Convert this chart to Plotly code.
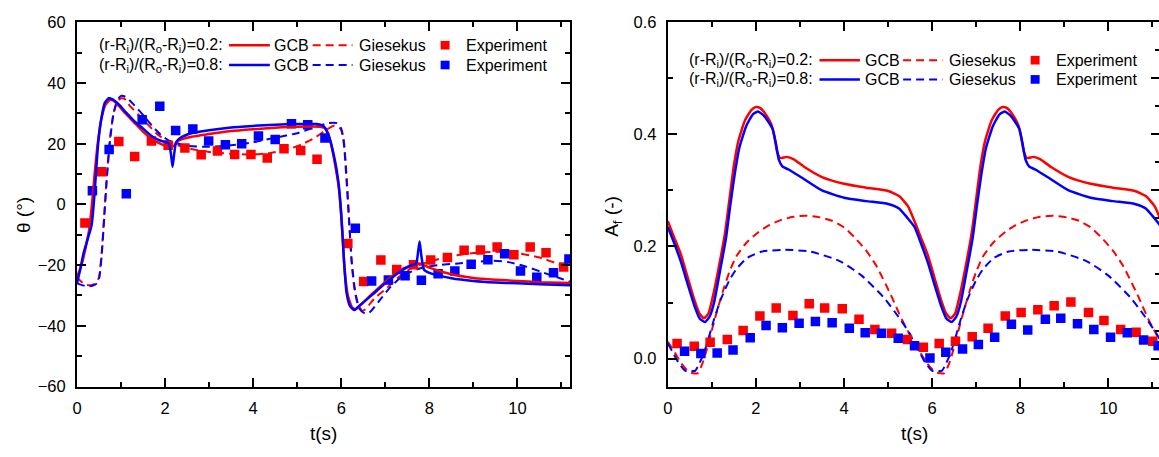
import plotly.graph_objects as go

W, H = 1159, 457
RED, BLUE = "#ff0000", "#0000ff"
FONT = "Arial, Liberation Sans, sans-serif"

# ---------------- Left panel: theta(t) ----------------
gcb02_t = [0.00, 0.10, 0.20, 0.28, 0.34, 0.40, 0.47, 0.55, 0.65, 0.75, 0.82, 0.95, 1.10, 1.30, 1.50, 1.70,
           1.90, 2.10, 2.20, 2.30, 2.50, 3.00, 3.50, 4.00, 4.50, 5.00, 5.50, 5.65, 5.75, 5.85, 5.95, 6.02,
           6.08, 6.15, 6.25, 6.33, 6.45, 6.70, 7.00, 7.30, 7.60, 7.80, 8.00, 8.50, 9.00, 9.50, 10.00, 10.50, 11.20]
gcb02_th = [-24, -20, -14, -8, 0, 10, 20, 28, 33, 34.5, 34.3, 32.5, 30, 27, 24, 21.5,
            20, 19, 19.3, 21, 22, 23.2, 24.2, 24.8, 25.3, 25.6, 25.6, 25, 21, 14, 5, -8,
            -22, -30, -34, -34.5, -33, -29.5, -25.5, -22, -20, -19.5, -20.8, -23, -24.2, -24.8, -25.2, -25.6, -25.9]

gcb08_t = [0.00, 0.08, 0.15, 0.25, 0.33, 0.38, 0.42, 0.48, 0.55, 0.63, 0.72, 0.80, 0.95, 1.10, 1.30, 1.50,
           1.70, 1.90, 2.08, 2.13, 2.17, 2.21, 2.25, 2.35, 2.60, 3.00, 3.50, 4.00, 4.50, 5.00, 5.45, 5.60,
           5.72, 5.85, 5.93, 6.00, 6.06, 6.12, 6.20, 6.30, 6.40, 6.70, 7.00, 7.30, 7.55, 7.70, 7.75, 7.78,
           7.82, 7.88, 8.05, 8.50, 9.00, 9.50, 10.00, 10.50, 11.20]
gcb08_th = [-26, -21, -16, -11, -7, 0, 8, 20, 28, 33.5, 35, 34.7, 33, 30.5, 27.5, 25,
            22.5, 21, 20.2, 17, 12.4, 17, 20.5, 22, 23.5, 24.5, 25.4, 25.9, 26.3, 26.5, 26.5, 25.8,
            22.5, 15, 8, -3, -18, -29, -33.5, -34.8, -33.5, -29.8, -26, -22.5, -20.3, -19.5, -15, -12.2,
            -17, -21.5, -22.8, -24.3, -25.2, -25.7, -26, -26.3, -26.6]

gie02_t = [0.00, 0.10, 0.20, 0.35, 0.45, 0.50, 0.56, 0.62, 0.68, 0.75, 0.83, 0.92, 1.00, 1.08, 1.20, 1.40,
           1.60, 1.80, 2.00, 2.20, 2.40, 2.70, 3.00, 3.50, 4.00, 4.40, 4.80, 5.10, 5.40, 5.65, 5.85, 5.98,
           6.05, 6.12, 6.18, 6.23, 6.30, 6.38, 6.48, 6.55, 6.75, 7.00, 7.30, 7.60, 8.00, 8.50, 9.00, 9.50,
           10.00, 10.50, 11.00, 11.20]
gie02_th = [-24, -25.5, -26.5, -26.5, -25.5, -24, -16, -3, 10, 22, 30, 34, 35, 34.8, 32.5, 29.5,
            26.5, 23.5, 21.3, 20, 19, 18, 17.3, 16.7, 16.5, 17, 18.2, 19.8, 22, 24.5, 26, 25,
            22, 10, -5, -18, -28, -33, -35, -34.5, -31, -28, -24, -21, -18.8, -17, -16, -15.6,
            -16, -17.5, -20, -21.5]

gie08_t = [0.00, 0.10, 0.25, 0.35, 0.45, 0.50, 0.56, 0.62, 0.68, 0.75, 0.83, 0.92, 1.00, 1.10, 1.25, 1.50,
           1.70, 1.90, 2.10, 2.30, 2.50, 3.00, 3.50, 4.00, 4.50, 5.00, 5.40, 5.70, 5.90, 6.00, 6.06, 6.12,
           6.18, 6.24, 6.32, 6.42, 6.55, 6.65, 6.85, 7.10, 7.40, 7.80, 8.20, 8.60, 9.00, 9.40, 9.80, 10.20,
           10.60, 11.00, 11.20]
gie08_th = [-26, -26.5, -27, -26.8, -26, -24.5, -17, -4, 9, 21, 30, 34.5, 35.8, 35.5, 33.5, 29.5,
            26, 23, 21, 20, 19.3, 19, 19.5, 20.5, 22, 23.5, 25.5, 26.8, 26.8, 25, 20, 8,
            -6, -19, -29, -34.5, -36, -35.5, -32, -27.5, -23.5, -21, -20, -19.5, -19, -18.5, -19, -20.5,
            -22.5, -24.5, -25.5]

exp02_t = [0.18, 0.56, 0.95, 1.31, 1.69, 2.07, 2.45, 2.82, 3.19, 3.58, 3.95, 4.32, 4.70, 5.08, 5.45,
           6.15, 6.51, 6.90, 7.26, 7.64, 8.03, 8.41, 8.79, 9.16, 9.54, 9.92, 10.29, 10.65, 11.05]
exp02_th = [-6.1, 10.8, 20.8, 15.8, 20.9, 19.5, 18.6, 16.4, 17.6, 16.5, 16.5, 15.3, 18.4, 17.8, 14.9,
            -12.9, -25.4, -18.3, -21.4, -19.9, -18.3, -17.5, -15.1, -15.0, -14.0, -16.6, -14.0, -15.9, -20.6]

exp08_t = [0.35, 0.73, 1.12, 1.48, 1.88, 2.24, 2.63, 2.99, 3.37, 3.74, 4.12, 4.50, 4.87, 5.24, 5.63,
           6.32, 6.69, 7.07, 7.45, 7.82, 8.20, 8.58, 8.95, 9.33, 9.71, 10.07, 10.44, 10.82, 11.17]
exp08_th = [4.5, 18.1, 3.5, 27.9, 32.4, 24.4, 24.9, 20.9, 19.7, 20.0, 22.6, 21.4, 26.6, 26.3, 21.9,
            -7.8, -25.2, -24.9, -23.5, -25.0, -22.8, -21.9, -19.7, -18.2, -16.2, -21.9, -24.0, -22.5, -18.0]

# ---------------- Right panel: A_f(t) ----------------
agcb02_t = [0.00, 0.15, 0.30, 0.45, 0.60, 0.72, 0.82, 0.92, 1.02, 1.15, 1.30, 1.40, 1.50, 1.60, 1.75, 1.90,
            2.00, 2.10, 2.22, 2.35, 2.42, 2.48, 2.55, 2.70, 2.85, 3.10, 3.50, 4.00, 4.50, 5.00, 5.25, 5.45,
            5.60, 5.75, 5.90, 6.05, 6.20, 6.32, 6.42, 6.52, 6.62, 6.75, 6.90, 7.00, 7.10, 7.20, 7.35, 7.50,
            7.60, 7.70, 7.82, 7.95, 8.02, 8.08, 8.15, 8.30, 8.45, 8.70, 9.10, 9.60, 10.10, 10.60, 10.85, 11.05, 11.20]
agcb02_a = [0.245, 0.215, 0.185, 0.145, 0.105, 0.080, 0.072, 0.080, 0.110, 0.160, 0.225, 0.285, 0.345, 0.388, 0.425, 0.444,
            0.449, 0.447, 0.436, 0.418, 0.395, 0.370, 0.358, 0.360, 0.356, 0.342, 0.324, 0.312, 0.305, 0.299, 0.290, 0.272,
            0.245, 0.215, 0.185, 0.145, 0.105, 0.080, 0.072, 0.080, 0.110, 0.160, 0.225, 0.285, 0.345, 0.388, 0.425, 0.444,
            0.449, 0.447, 0.436, 0.418, 0.395, 0.370, 0.358, 0.360, 0.356, 0.342, 0.324, 0.312, 0.305, 0.299, 0.290, 0.272, 0.245]

agcb08_t = [0.00, 0.15, 0.30, 0.45, 0.60, 0.72, 0.84, 0.95, 1.05, 1.17, 1.32, 1.42, 1.52, 1.62, 1.78, 1.93,
            2.05, 2.20, 2.38, 2.45, 2.52, 2.60, 2.75, 3.00, 3.50, 4.00, 4.50, 5.00, 5.25, 5.45,
            5.60, 5.75, 5.90, 6.05, 6.20, 6.32, 6.44, 6.55, 6.65, 6.77, 6.92, 7.02, 7.12, 7.22, 7.38, 7.53,
            7.65, 7.80, 7.98, 8.05, 8.12, 8.20, 8.35, 8.60, 9.10, 9.60, 10.10, 10.60, 10.85, 11.05, 11.20]
agcb08_a = [0.235, 0.205, 0.172, 0.133, 0.095, 0.072, 0.065, 0.075, 0.100, 0.150, 0.215, 0.275, 0.330, 0.375, 0.415, 0.436,
            0.441, 0.432, 0.410, 0.385, 0.355, 0.343, 0.337, 0.325, 0.300, 0.287, 0.281, 0.276, 0.268, 0.250,
            0.235, 0.205, 0.172, 0.133, 0.095, 0.072, 0.065, 0.075, 0.100, 0.150, 0.215, 0.275, 0.330, 0.375, 0.415, 0.436,
            0.441, 0.432, 0.410, 0.385, 0.355, 0.343, 0.337, 0.325, 0.300, 0.287, 0.281, 0.276, 0.268, 0.250, 0.235]

agie02_t = [0.00, 0.15, 0.30, 0.45, 0.55, 0.68, 0.78, 0.88, 0.98, 1.10, 1.25, 1.40, 1.56, 1.80, 2.06, 2.30,
            2.56, 2.85, 3.14, 3.45, 3.73, 4.00, 4.23, 4.50, 4.73, 5.06, 5.31, 5.56,
            5.75, 5.90, 6.05, 6.15, 6.28, 6.38, 6.48, 6.58, 6.70, 6.85, 7.00, 7.16, 7.40, 7.66, 7.90,
            8.16, 8.45, 8.74, 9.05, 9.33, 9.60, 9.83, 10.10, 10.33, 10.66, 10.91, 11.16]
agie02_a = [0.030, 0.012, -0.008, -0.022, -0.026, -0.026, -0.010, 0.015, 0.045, 0.080, 0.120, 0.155, 0.183, 0.208, 0.226, 0.238,
            0.247, 0.253, 0.255, 0.252, 0.246, 0.234, 0.217, 0.193, 0.166, 0.114, 0.070, 0.033,
            0.008, -0.010, -0.023, -0.026, -0.026, -0.010, 0.015, 0.045, 0.080, 0.120, 0.155, 0.183, 0.208, 0.226, 0.238,
            0.247, 0.253, 0.255, 0.252, 0.246, 0.234, 0.217, 0.193, 0.166, 0.114, 0.070, 0.033]

agie08_t = [0.00, 0.12, 0.25, 0.40, 0.50, 0.62, 0.72, 0.82, 0.92, 1.05, 1.20, 1.40, 1.56, 1.81, 2.14, 2.64,
            3.23, 3.90, 4.40, 4.90, 5.23, 5.48, 5.60,
            5.72, 5.85, 6.00, 6.10, 6.22, 6.32, 6.42, 6.52, 6.65, 6.80, 7.00, 7.16, 7.41, 7.74, 8.24,
            8.83, 9.50, 10.00, 10.50, 10.83, 11.08, 11.20]
agie08_a = [0.027, 0.010, -0.008, -0.022, -0.022, -0.022, -0.008, 0.010, 0.035, 0.070, 0.105, 0.140, 0.160, 0.180, 0.191, 0.194,
            0.191, 0.174, 0.148, 0.109, 0.075, 0.046, 0.027,
            0.010, -0.008, -0.022, -0.022, -0.022, -0.008, 0.010, 0.035, 0.070, 0.105, 0.140, 0.160, 0.180, 0.191, 0.194,
            0.191, 0.174, 0.148, 0.109, 0.075, 0.046, 0.030]

aexp02_t = [0.21, 0.60, 0.96, 1.35, 1.71, 2.09, 2.46, 2.84, 3.21, 3.56, 3.96, 4.34, 4.70, 5.08, 5.44,
            5.80, 6.16, 6.53, 6.91, 7.27, 7.66, 8.02, 8.40, 8.77, 9.15, 9.55, 9.90, 10.28, 10.63, 11.01]
aexp02_a = [0.027, 0.022, 0.029, 0.034, 0.050, 0.076, 0.090, 0.077, 0.098, 0.090, 0.089, 0.070, 0.052, 0.045, 0.034,
            0.020, 0.027, 0.031, 0.039, 0.054, 0.076, 0.082, 0.087, 0.094, 0.101, 0.082, 0.068, 0.052, 0.047, 0.031]

aexp08_t = [0.38, 0.75, 1.12, 1.48, 1.87, 2.23, 2.60, 2.98, 3.35, 3.73, 4.12, 4.48, 4.85, 5.23, 5.60,
            5.95, 6.31, 6.69, 7.05, 7.42, 7.80, 8.17, 8.57, 8.92, 9.30, 9.67, 10.05, 10.43, 10.80, 11.13]
aexp08_a = [0.013, 0.009, 0.010, 0.015, 0.037, 0.059, 0.055, 0.063, 0.066, 0.064, 0.054, 0.046, 0.045, 0.036, 0.023,
            0.001, 0.011, 0.017, 0.025, 0.038, 0.061, 0.051, 0.070, 0.072, 0.062, 0.052, 0.038, 0.046, 0.033, 0.023]

DASH = "8px,5px"
LW = 2.5
LWD = 2
MS = 9.5

fig = go.Figure()

def add_panel(xa, ya, g2t, g2v, g8t, g8v, q2t, q2v, q8t, q8v, e2t, e2v, e8t, e8v):
    common = dict(xaxis=xa, yaxis=ya, showlegend=False, hoverinfo="skip")
    fig.add_trace(go.Scatter(x=q2t, y=q2v, mode="lines", line=dict(color=RED, width=LWD, dash=DASH, shape="spline", smoothing=0.6), **common))
    fig.add_trace(go.Scatter(x=q8t, y=q8v, mode="lines", line=dict(color=BLUE, width=LWD, dash=DASH, shape="spline", smoothing=0.6), **common))
    fig.add_trace(go.Scatter(x=e2t, y=e2v, mode="markers", marker=dict(symbol="square", color=RED, size=MS), **common))
    fig.add_trace(go.Scatter(x=e8t, y=e8v, mode="markers", marker=dict(symbol="square", color=BLUE, size=MS), **common))
    fig.add_trace(go.Scatter(x=g2t, y=g2v, mode="lines", line=dict(color=RED, width=LW, shape="spline", smoothing=0.5), **common))
    fig.add_trace(go.Scatter(x=g8t, y=g8v, mode="lines", line=dict(color=BLUE, width=LW, shape="spline", smoothing=0.5), **common))

add_panel("x", "y", gcb02_t, gcb02_th, gcb08_t, gcb08_th, gie02_t, gie02_th, gie08_t, gie08_th,
          exp02_t, exp02_th, exp08_t, exp08_th)
add_panel("x2", "y2", agcb02_t, agcb02_a, agcb08_t, agcb08_a, agie02_t, agie02_a, agie08_t, agie08_a,
          aexp02_t, aexp02_a, aexp08_t, aexp08_a)
# dummy trace so the right-hand tick axis of the right panel is drawn
fig.add_trace(go.Scatter(x=[None], y=[None], xaxis="x2", yaxis="y3", showlegend=False, hoverinfo="skip"))

def px(x):
    return x / W

def py(y):
    return 1 - y / H

tickfont = dict(family=FONT, size=16.5, color="black")
axis_common = dict(showline=True, linewidth=2, linecolor="black", ticks="inside", ticklen=9, tickwidth=2,
                   tickcolor="black", showgrid=False, zeroline=False, tickfont=tickfont)

ydom = [py(393), py(14)]
fig.update_layout(
    width=W, height=H, margin=dict(l=0, r=0, t=0, b=0),
    paper_bgcolor="white", plot_bgcolor="white",
    xaxis=dict(domain=[px(72.3), px(567.7)], range=[0, 11.2], anchor="y", mirror="ticks", dtick=2, tick0=0,
               minor=dict(dtick=1, tick0=0, ticks="inside", ticklen=5, tickwidth=2, tickcolor="black"),
               ticklabelstandoff=6, **axis_common),
    yaxis=dict(domain=ydom, range=[-60, 60], anchor="x", mirror="ticks", dtick=20, tick0=0,
               minor=dict(dtick=10, tick0=0, ticks="inside", ticklen=5, tickwidth=2, tickcolor="black"),
               ticklabelstandoff=6, **axis_common),
    xaxis2=dict(domain=[px(665.7), 1.0], range=[0, 11.15], anchor="y2", mirror="ticks", dtick=2, tick0=0,
                minor=dict(dtick=1, tick0=0, ticks="inside", ticklen=5, tickwidth=2, tickcolor="black"),
                ticklabelstandoff=6, **axis_common),
    yaxis2=dict(domain=ydom, range=[-0.05, 0.6], anchor="x2", mirror=False, dtick=0.2, tick0=0, tickformat=".1f",
                minor=dict(dtick=0.1, tick0=0, ticks="inside", ticklen=5, tickwidth=2, tickcolor="black"),
                ticklabelstandoff=6, **axis_common),
    yaxis3=dict(overlaying="y2", side="right", anchor="x2", range=[-0.05, 0.6], showline=False, showgrid=False,
                zeroline=False, showticklabels=False, ticks="inside", ticklen=8, tickwidth=2, tickcolor="black",
                dtick=0.1, tick0=0,
                minor=dict(dtick=0.05, tick0=0, ticks="inside", ticklen=4, tickwidth=2, tickcolor="black")),
)

annotations = []
shapes = []

title_font = dict(family=FONT, size=19, color="black")
annotations.append(dict(text="t(s)", x=px(320), y=py(442), xref="paper", yref="paper", showarrow=False,
                        font=title_font, xanchor="center", yanchor="middle"))
annotations.append(dict(text="t(s)", x=px(913.5), y=py(442), xref="paper", yref="paper", showarrow=False,
                        font=title_font, xanchor="center", yanchor="middle"))
annotations.append(dict(text="θ (°)", x=px(18.5), y=py(214), xref="paper", yref="paper", showarrow=False,
                        font=title_font, textangle=-90, xanchor="center", yanchor="middle"))
annotations.append(dict(text="A<sub>f</sub> (-)", x=px(611), y=py(216), xref="paper", yref="paper", showarrow=False,
                        font=title_font, textangle=-90, xanchor="center", yanchor="middle"))

leg_font = dict(family=FONT, size=16, color="black")
labels = ["(r-R<sub>i</sub>)/(R<sub>o</sub>-R<sub>i</sub>)=0.2:", "(r-R<sub>i</sub>)/(R<sub>o</sub>-R<sub>i</sub>)=0.8:"]

def legend(xs, rows):
    # xs: label_right, solid0, solid1, gcb_left, dash0, dash1, gie_left, square_c, exp_left
    for (yrow, color, lab) in zip(rows, [RED, BLUE], labels):
        annotations.append(dict(text=lab, x=px(xs[0]), y=py(yrow), xref="paper", yref="paper", showarrow=False,
                                font=leg_font, xanchor="right", yanchor="middle"))
        annotations.append(dict(text="GCB", x=px(xs[3]), y=py(yrow), xref="paper", yref="paper", showarrow=False,
                                font=leg_font, xanchor="left", yanchor="middle"))
        annotations.append(dict(text="Giesekus", x=px(xs[6]), y=py(yrow), xref="paper", yref="paper", showarrow=False,
                                font=leg_font, xanchor="left", yanchor="middle"))
        annotations.append(dict(text="Experiment", x=px(xs[8]), y=py(yrow), xref="paper", yref="paper", showarrow=False,
                                font=leg_font, xanchor="left", yanchor="middle"))
        shapes.append(dict(type="line", xref="paper", yref="paper", x0=px(xs[1]), x1=px(xs[2]), y0=py(yrow), y1=py(yrow),
                           line=dict(color=color, width=2.5)))
        shapes.append(dict(type="line", xref="paper", yref="paper", x0=px(xs[4]), x1=px(xs[5]), y0=py(yrow), y1=py(yrow),
                           line=dict(color=color, width=2, dash=DASH)))
        shapes.append(dict(type="rect", xref="paper", yref="paper", x0=px(xs[7] - 4.5), x1=px(xs[7] + 4.5),
                           y0=py(yrow + 4.5), y1=py(yrow - 4.5), line=dict(width=0), fillcolor=color))

legend([221, 225, 266, 268.5, 309, 349, 353.5, 442, 460.5], [37.7, 58.3])
legend([814, 818, 858.6, 862, 902, 941.6, 946.4, 1034.6, 1054], [53.3, 73.3])

fig.update_layout(annotations=annotations, shapes=shapes)
fig.write_html("out.html")
